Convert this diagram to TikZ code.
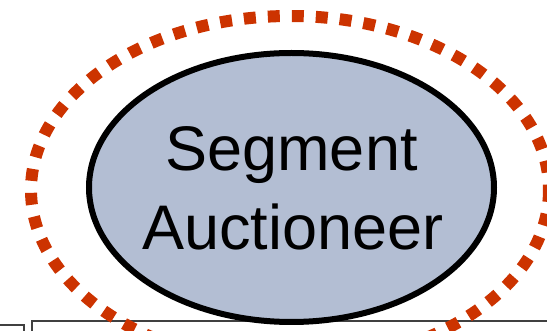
\documentclass[tikz,border=0pt]{standalone}
\usepackage{fontspec}
\setmainfont{Liberation Sans}
\usetikzlibrary{shapes.geometric}
\definecolor{agentfill}{HTML}{B3BED3}
\definecolor{ringred}{HTML}{CC3300}
\definecolor{boxline}{HTML}{404040}
\tikzset{
  agent/.style={ellipse, draw=black, line width=6pt, fill=agentfill, inner sep=0pt,
    minimum width=405pt, minimum height=269pt},
  ring/.style={draw=ringred, line width=12pt, dash pattern=on 12pt off 12pt},
  panel/.style={draw=boxline, line width=1.3pt},
  label/.style={anchor=base, inner sep=0pt, font=\fontsize{63}{75}\selectfont}
}
\begin{document}
\begin{tikzpicture}[x=1pt,y=-1pt]
  \useasboundingbox (0,0) rectangle (547,331);
  % panels below the agent
  \draw[panel] (-5,325) -- (24,325) -- (24,340);
  \draw[panel] (32,340) -- (32,321) -- (560,321);
  % the agent
  \node[agent] (auct) at (291.5,187.5) {};
  \node[label] (l1) at (291.5,171) {Segment};
  \node[label] (l2) at (293,250) {Auctioneer};
  % highlighting ring
  \draw[ring] (290,190) ellipse [x radius=259, y radius=174];
\end{tikzpicture}
\end{document}
